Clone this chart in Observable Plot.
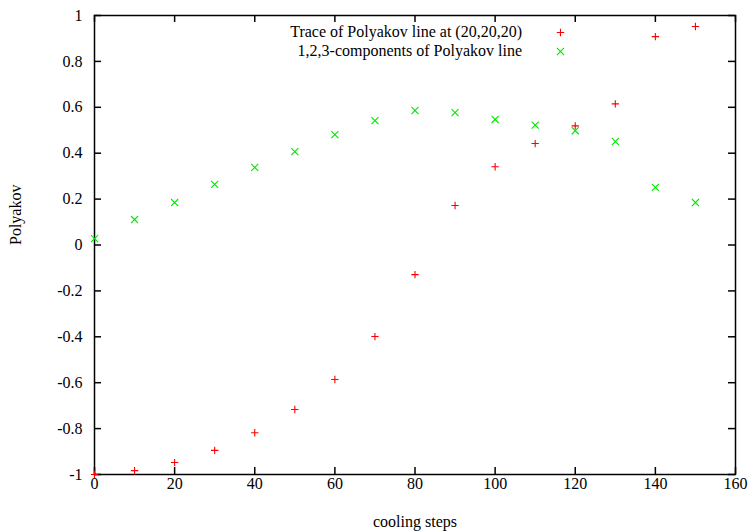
<!DOCTYPE html>
<html>
<head>
<meta charset="utf-8">
<script src="https://cdn.jsdelivr.net/npm/d3@7"></script>
<script src="https://cdn.jsdelivr.net/npm/@observablehq/plot@0.6"></script>
<style>
  html, body { margin: 0; padding: 0; background: #ffffff; }
  #wrap { position: relative; width: 754px; height: 532px; }
  #chart svg { display: block; font-family: "Liberation Serif", serif; color: #000; }
  #legend { position: absolute; left: 0px; top: 22px; width: 522px; text-align: right; font-family: "Liberation Serif", serif; font-size: 16px; line-height: 19px; color: #000; white-space: pre; }
</style>
</head>
<body>
<div id="wrap">
  <div id="chart"></div>
  <div id="legend"></div>
</div>
<script>
const steps = [0, 10, 20, 30, 40, 50, 60, 70, 80, 90, 100, 110, 120, 130, 140, 150];
const traceValues = [-1.0, -0.983, -0.948, -0.895, -0.818, -0.717, -0.586, -0.399, -0.129, 0.172, 0.341, 0.442, 0.519, 0.615, 0.908, 0.952];
const componentValues = [0.028, 0.111, 0.185, 0.264, 0.338, 0.407, 0.481, 0.542, 0.586, 0.577, 0.547, 0.522, 0.498, 0.451, 0.251, 0.185];
const seriesNames = ["Trace of Polyakov line at (20,20,20)", "1,2,3-components of Polyakov line"];
const xTicks = [0, 20, 40, 60, 80, 100, 120, 140, 160];
const yTicks = [-1, -0.8, -0.6, -0.4, -0.2, 0, 0.2, 0.4, 0.6, 0.8, 1];
const xLabel = "cooling steps";
const yLabel = "Polyakov";

const trace = steps.map((s, i) => ({step: s, value: traceValues[i]}));
const comps = steps.map((s, i) => ({step: s, value: componentValues[i]}));

const W = 754, H = 532;
const mL = 94, mR = 19, mT = 15, mB = 58;
const innerW = W - mL - mR, innerH = H - mT - mB;
const tickLen = 7;
const fmt = d => String(+(+d).toFixed(1));
const red = "#ff0000", green = "#00e600";

const chart = Plot.plot({
  width: W, height: H,
  marginLeft: mL, marginRight: mR, marginTop: mT, marginBottom: mB,
  style: {fontFamily: "Liberation Serif, serif", fontSize: "16px"},
  x: {domain: [0, 160]},
  y: {domain: [-1, 1]},
  marks: [
    Plot.ruleX(xTicks, {x: d => d, insetTop: innerH - tickLen, stroke: "black", strokeWidth: 1.5}),
    Plot.ruleX(xTicks, {x: d => d, insetBottom: innerH - tickLen, stroke: "black", strokeWidth: 1.5}),
    Plot.ruleY(yTicks, {y: d => d, insetRight: innerW - tickLen, stroke: "black", strokeWidth: 1.5}),
    Plot.ruleY(yTicks, {y: d => d, insetLeft: innerW - tickLen, stroke: "black", strokeWidth: 1.5}),
    Plot.axisX({ticks: xTicks, tickSize: 0, tickPadding: 3, tickFormat: fmt, label: null, fontSize: 16}),
    Plot.axisY({ticks: yTicks, tickSize: 0, tickPadding: 12, tickFormat: fmt, label: null, fontSize: 16}),
    Plot.frame({stroke: "black", strokeWidth: 1.5}),
    Plot.dot(trace, {x: "step", y: "value", symbol: "plus", r: 2.5, stroke: red, strokeWidth: 1.1}),
    Plot.dot(comps, {x: "step", y: "value", symbol: "times", r: 3.3, stroke: green, strokeWidth: 1.1}),
    Plot.dot([seriesNames[0]], {frameAnchor: "top-left", dx: 466, dy: 17, symbol: "plus", r: 2.5, stroke: red, strokeWidth: 1.1}),
    Plot.dot([seriesNames[1]], {frameAnchor: "top-left", dx: 466, dy: 36, symbol: "times", r: 3.3, stroke: green, strokeWidth: 1.1}),
    Plot.text([yLabel], {text: d => d, frameAnchor: "left", dx: -79, rotate: -90, lineAnchor: "middle", fontSize: 16}),
    Plot.text([xLabel], {text: d => d, frameAnchor: "bottom", dy: 47, lineAnchor: "middle", fontSize: 16})
  ]
});
document.getElementById("chart").appendChild(chart);
document.getElementById("legend").textContent = seriesNames.join("\n");
</script>
</body>
</html>
